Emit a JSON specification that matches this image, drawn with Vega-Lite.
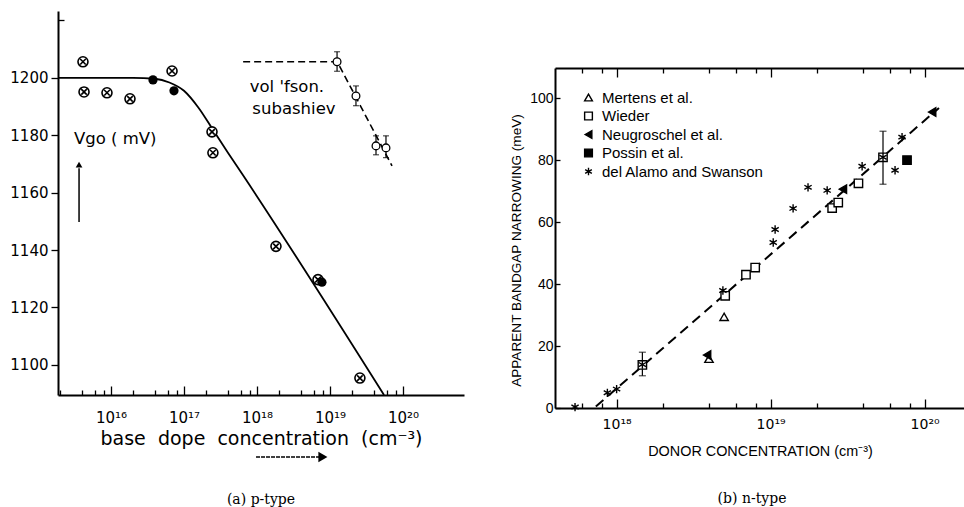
{
  "$schema": "https://vega.github.io/schema/vega-lite/v6.json",
  "background": "white",
  "padding": {"left": 9, "top": 11, "right": 0, "bottom": 0},
  "spacing": 45,
  "resolve": {"legend": {"shape": "independent", "fill": "independent", "stroke": "independent"}},
  "config": {
    "view": {"stroke": null},
    "axis": {"grid": false, "domainColor": "black", "tickColor": "black", "labelColor": "black", "titleColor": "black", "titleFontWeight": "normal", "labelOverlap": false, "labelFlush": false},
    "title": {"color": "black", "font": "DejaVu Serif", "fontSize": 14, "fontWeight": "normal"}
  },
  "datasets": {
    "fitA": [
      {"N": 1.88e15, "V": 1200}, {"N": 2.0e16, "V": 1200}, {"N": 3.98e16, "V": 1199.7},
      {"N": 6.31e16, "V": 1198.4}, {"N": 1.0e17, "V": 1195.5}, {"N": 1.58e17, "V": 1189.6},
      {"N": 2.51e17, "V": 1181.8}, {"N": 3.98e17, "V": 1174.0}, {"N": 6.31e17, "V": 1166.4},
      {"N": 5.5e19, "V": 1089.5}
    ],
    "volfsonFit": [
      {"N": 6.46e17, "V": 1205.6}, {"N": 1.26e19, "V": 1205.6}, {"N": 7.08e19, "V": 1169.3}
    ],
    "crossed": [
      {"N": 4.13e15, "V": 1205.6}, {"N": 4.27e15, "V": 1195.1}, {"N": 8.81e15, "V": 1194.8},
      {"N": 1.82e16, "V": 1192.7}, {"N": 6.86e16, "V": 1202.4}, {"N": 2.42e17, "V": 1181.2},
      {"N": 2.49e17, "V": 1173.9}, {"N": 1.82e18, "V": 1141.3}, {"N": 6.85e18, "V": 1129.7},
      {"N": 2.57e19, "V": 1095.4}
    ],
    "filledA": [
      {"N": 3.76e16, "V": 1199.3}, {"N": 7.29e16, "V": 1195.5}, {"N": 7.76e18, "V": 1128.8}
    ],
    "volfson": [
      {"N": 1.25e19, "V": 1205.6, "lo": 1202.3, "hi": 1209.1},
      {"N": 2.27e19, "V": 1193.7, "lo": 1190.3, "hi": 1197.2},
      {"N": 4.27e19, "V": 1176.3, "lo": 1173.2, "hi": 1179.8},
      {"N": 5.85e19, "V": 1175.6, "lo": 1172.2, "hi": 1179.8}
    ],
    "labelsA": [
      {"N": 2.57e18, "V": 1196.9, "text": "vol 'fson."},
      {"N": 3.21e18, "V": 1189.2, "text": "subashiev"}
    ],
    "vgo": [{"N": 3.11e15, "V": 1178.7, "text": "Vgo ( mV)"}],
    "arrowUp": [{"N": 3.65e15, "V": 1149.8, "V2": 1168.5, "tip": 1169.8}],
    "arrowRight": [{"N": 9.7e17, "N2": 7.6e18, "tip": 8.0e18, "V": 1067.9}],
    "pointsB": [
      {"series": "Mertens et al.", "N": 4.99e18, "V": 29.4},
      {"series": "Mertens et al.", "N": 3.98e18, "V": 15.9},
      {"series": "Wieder", "N": 1.47e18, "V": 13.9},
      {"series": "Wieder", "N": 5.07e18, "V": 36.2},
      {"series": "Wieder", "N": 6.92e18, "V": 43.0},
      {"series": "Wieder", "N": 7.94e18, "V": 45.3},
      {"series": "Wieder", "N": 2.51e19, "V": 64.5},
      {"series": "Wieder", "N": 2.75e19, "V": 66.3},
      {"series": "Wieder", "N": 3.72e19, "V": 72.5},
      {"series": "Wieder", "N": 5.37e19, "V": 80.9},
      {"series": "Neugroschel et al.", "N": 3.87e18, "V": 17.1},
      {"series": "Neugroschel et al.", "N": 2.95e19, "V": 70.6},
      {"series": "Neugroschel et al.", "N": 1.12e20, "V": 95.5},
      {"series": "Possin et al.", "N": 7.69e19, "V": 80.0},
      {"series": "del Alamo and Swanson", "N": 5.37e17, "V": 0.3},
      {"series": "del Alamo and Swanson", "N": 8.71e17, "V": 4.9},
      {"series": "del Alamo and Swanson", "N": 1.0e18, "V": 6.1},
      {"series": "del Alamo and Swanson", "N": 1.47e18, "V": 14.0},
      {"series": "del Alamo and Swanson", "N": 4.9e18, "V": 37.9},
      {"series": "del Alamo and Swanson", "N": 1.04e19, "V": 53.4},
      {"series": "del Alamo and Swanson", "N": 1.07e19, "V": 57.6},
      {"series": "del Alamo and Swanson", "N": 1.4e19, "V": 64.4},
      {"series": "del Alamo and Swanson", "N": 1.75e19, "V": 71.2},
      {"series": "del Alamo and Swanson", "N": 2.33e19, "V": 70.2},
      {"series": "del Alamo and Swanson", "N": 3.93e19, "V": 78.0},
      {"series": "del Alamo and Swanson", "N": 5.37e19, "V": 80.9},
      {"series": "del Alamo and Swanson", "N": 6.43e19, "V": 76.7},
      {"series": "del Alamo and Swanson", "N": 7.14e19, "V": 87.4}
    ],
    "errB": [
      {"N": 1.47e18, "lo": 10.4, "hi": 18.0},
      {"N": 5.37e19, "lo": 72.2, "hi": 89.3}
    ],
    "fitB": [
      {"N": 7.33e17, "V": 0.5}, {"N": 1.24e20, "V": 96.8}
    ]
  },
  "hconcat": [
    {
      "width": 406,
      "height": 384,
      "title": {"text": "(a) p-type", "orient": "bottom", "offset": 31, "anchor": "middle"},
      "layer": [
        {
          "data": {"name": "fitA"},
          "mark": {"type": "line", "color": "black", "strokeWidth": 1.8, "interpolate": "monotone"},
          "encoding": {
            "x": {"field": "N", "type": "quantitative",
              "scale": {"type": "log", "domain": [1.879e15, 6.855e20], "nice": false},
              "axis": {
                "values": [2e15, 4e15, 6e15, 8e15, 1e16, 2e16, 4e16, 6e16, 8e16, 1e17, 2e17, 4e17, 6e17, 8e17, 1e18, 2e18, 4e18, 6e18, 8e18, 1e19, 2e19, 4e19, 6e19, 8e19, 1e20],
                "labelExpr": "datum.value==1e16?'10\u00b9\u2076':datum.value==1e17?'10\u00b9\u2077':datum.value==1e18?'10\u00b9\u2078':datum.value==1e19?'10\u00b9\u2079':datum.value==1e20?'10\u00b2\u2070':''",
                "tickSize": {"condition": {"test": "datum.value==1e16||datum.value==1e17||datum.value==1e18||datum.value==1e19||datum.value==1e20", "value": -9}, "value": -5},
                "tickWidth": 1.3, "domainWidth": 2,
                "labelFont": "DejaVu Sans", "labelFontSize": 15, "labelPadding": 24,
                "title": "base\u00a0\u00a0dope\u00a0\u00a0concentration\u00a0\u00a0(cm\u207b\u00b3)", "titleFont": "DejaVu Sans", "titleFontSize": 19, "titlePadding": 0
              }},
            "y": {"field": "V", "type": "quantitative",
              "scale": {"domain": [1089.5, 1223.3], "nice": false, "zero": false},
              "axis": {
                "values": [1100, 1110, 1120, 1130, 1140, 1150, 1160, 1170, 1180, 1190, 1200, 1210, 1220],
                "labelExpr": "(datum.value%20==0&&datum.value<=1200)?''+datum.value:''",
                "tickSize": {"condition": {"test": "datum.value%20==0&&datum.value<=1200", "value": 7}, "value": -6},
                "tickWidth": 1.3, "domainWidth": 2,
                "labelFont": "DejaVu Sans", "labelFontSize": 15, "labelPadding": 3,
                "title": null
              }}
          }
        },
        {
          "data": {"name": "volfsonFit"},
          "mark": {"type": "line", "color": "black", "strokeWidth": 1.6, "strokeDash": [7, 4]},
          "encoding": {
            "x": {"field": "N", "type": "quantitative"},
            "y": {"field": "V", "type": "quantitative"}
          }
        },
        {
          "data": {"name": "volfson"},
          "mark": {"type": "rule", "color": "black", "strokeWidth": 1.2},
          "encoding": {
            "x": {"field": "N", "type": "quantitative"},
            "y": {"field": "lo", "type": "quantitative"},
            "y2": {"field": "hi"}
          }
        },
        {
          "data": {"name": "volfson"},
          "mark": {"type": "tick", "orient": "horizontal", "color": "black", "size": 6, "thickness": 1.2},
          "encoding": {
            "x": {"field": "N", "type": "quantitative"},
            "y": {"field": "lo", "type": "quantitative"}
          }
        },
        {
          "data": {"name": "volfson"},
          "mark": {"type": "tick", "orient": "horizontal", "color": "black", "size": 6, "thickness": 1.2},
          "encoding": {
            "x": {"field": "N", "type": "quantitative"},
            "y": {"field": "hi", "type": "quantitative"}
          }
        },
        {
          "data": {"name": "volfson"},
          "mark": {"type": "point", "shape": "circle", "size": 60, "fill": "white", "stroke": "black", "strokeWidth": 1.3, "opacity": 1},
          "encoding": {
            "x": {"field": "N", "type": "quantitative"},
            "y": {"field": "V", "type": "quantitative"}
          }
        },
        {
          "data": {"name": "crossed"},
          "mark": {"type": "point", "shape": "M1,0A1,1,0,1,1,-1,0A1,1,0,1,1,1,0ZM-0.55,-0.55L0.55,0.55M-0.55,0.55L0.55,-0.55", "size": 100, "fill": "white", "stroke": "black", "strokeWidth": 1.6, "opacity": 1},
          "encoding": {
            "x": {"field": "N", "type": "quantitative"},
            "y": {"field": "V", "type": "quantitative"}
          }
        },
        {
          "data": {"name": "filledA"},
          "mark": {"type": "point", "shape": "circle", "size": 85, "filled": true, "color": "black", "opacity": 1},
          "encoding": {
            "x": {"field": "N", "type": "quantitative"},
            "y": {"field": "V", "type": "quantitative"}
          }
        },
        {
          "data": {"name": "labelsA"},
          "mark": {"type": "text", "font": "DejaVu Sans", "fontSize": 16.5, "color": "black", "align": "center", "baseline": "middle"},
          "encoding": {
            "x": {"field": "N", "type": "quantitative"},
            "y": {"field": "V", "type": "quantitative"},
            "text": {"field": "text"}
          }
        },
        {
          "data": {"name": "vgo"},
          "mark": {"type": "text", "font": "DejaVu Sans", "fontSize": 16.5, "color": "black", "align": "left", "baseline": "middle"},
          "encoding": {
            "x": {"field": "N", "type": "quantitative"},
            "y": {"field": "V", "type": "quantitative"},
            "text": {"field": "text"}
          }
        },
        {
          "data": {"name": "arrowUp"},
          "mark": {"type": "rule", "color": "black", "strokeWidth": 1.5},
          "encoding": {
            "x": {"field": "N", "type": "quantitative"},
            "y": {"field": "V", "type": "quantitative"},
            "y2": {"field": "V2"}
          }
        },
        {
          "data": {"name": "arrowUp"},
          "mark": {"type": "point", "shape": "triangle-up", "size": 45, "filled": true, "color": "black", "opacity": 1},
          "encoding": {
            "x": {"field": "N", "type": "quantitative"},
            "y": {"field": "tip", "type": "quantitative"}
          }
        },
        {
          "data": {"name": "arrowRight"},
          "mark": {"type": "rule", "color": "black", "strokeWidth": 1.6, "strokeDash": [4, 1]},
          "encoding": {
            "x": {"field": "N", "type": "quantitative"},
            "x2": {"field": "N2"},
            "y": {"field": "V", "type": "quantitative"}
          }
        },
        {
          "data": {"name": "arrowRight"},
          "mark": {"type": "point", "shape": "triangle-right", "size": 110, "filled": true, "color": "black", "opacity": 1},
          "encoding": {
            "x": {"field": "tip", "type": "quantitative"},
            "y": {"field": "V", "type": "quantitative"}
          }
        }
      ]
    },
    {
      "spacing": 0,
      "resolve": {"legend": {"shape": "independent", "fill": "independent", "stroke": "independent"}},
      "vconcat": [
        {
          "width": 1,
          "height": 56,
          "data": {"values": []},
          "mark": {"type": "point", "opacity": 0},
          "encoding": {}
        },
        {
          "width": 410,
          "height": 340,
          "title": {"text": "(b) n-type", "orient": "bottom", "offset": 35, "anchor": "middle", "dx": -8},
          "resolve": {"axis": {"x": "independent"}},
          "layer": [
            {
              "data": {"name": "fitB"},
              "mark": {"type": "line", "color": "black", "strokeWidth": 2, "strokeDash": [10, 6]},
              "encoding": {
                "x": {"field": "N", "type": "quantitative",
                  "scale": {"type": "log", "domain": [3.98e17, 1.83e20], "nice": false},
                  "axis": {
                    "values": [6e17, 8e17, 1e18, 2e18, 4e18, 6e18, 8e18, 1e19, 2e19, 4e19, 6e19, 8e19, 1e20],
                    "labelExpr": "datum.value==1e18?'10\u00b9\u2078':datum.value==1e19?'10\u00b9\u2079':datum.value==1e20?'10\u00b2\u2070':''",
                    "tickSize": {"condition": {"test": "datum.value==1e18||datum.value==1e19||datum.value==1e20", "value": -9}, "value": -5},
                    "tickWidth": 1.3, "domainWidth": 2,
                    "labelFont": "DejaVu Sans", "labelFontSize": 14, "labelPadding": 18,
                    "title": "DONOR CONCENTRATION (cm\u207b\u00b3)", "titleFont": "Liberation Sans", "titleFontSize": 14.4, "titlePadding": 9
                  }},
                "y": {"field": "V", "type": "quantitative",
                  "scale": {"domain": [0, 109.7], "nice": false, "zero": false},
                  "axis": {
                    "values": [0, 20, 40, 60, 80, 100],
                    "tickSize": -5, "tickWidth": 1.3, "domainWidth": 2,
                    "labelFont": "Liberation Sans", "labelFontSize": 14, "labelPadding": 7,
                    "title": "APPARENT BANDGAP NARROWING (meV)", "titleFont": "Liberation Sans", "titleFontSize": 13.6, "titlePadding": 6, "titleY": 182
                  }}
              }
            },
            {
              "data": {"name": "errB"},
              "mark": {"type": "rule", "color": "black", "strokeWidth": 1.2},
              "encoding": {
                "x": {"field": "N", "type": "quantitative",
                  "axis": {
                    "orient": "top",
                    "values": [6e17, 8e17, 1e18, 2e18, 4e18, 6e18, 8e18, 1e19, 2e19, 4e19, 6e19, 8e19, 1e20],
                    "labels": false,
                    "tickSize": {"condition": {"test": "datum.value==1e18||datum.value==1e19||datum.value==1e20", "value": -9}, "value": -5},
                    "tickWidth": 1.3, "domainWidth": 2,
                    "title": null
                  }},
                "y": {"field": "lo", "type": "quantitative"},
                "y2": {"field": "hi"}
              }
            },
            {
              "data": {"name": "errB"},
              "mark": {"type": "tick", "orient": "horizontal", "color": "black", "size": 7, "thickness": 1.2},
              "encoding": {
                "x": {"field": "N", "type": "quantitative", "axis": null},
                "y": {"field": "lo", "type": "quantitative"}
              }
            },
            {
              "data": {"name": "errB"},
              "mark": {"type": "tick", "orient": "horizontal", "color": "black", "size": 7, "thickness": 1.2},
              "encoding": {
                "x": {"field": "N", "type": "quantitative", "axis": null},
                "y": {"field": "hi", "type": "quantitative"}
              }
            },
            {
              "data": {"name": "pointsB"},
              "mark": {"type": "point", "size": 70, "strokeWidth": 1.4, "opacity": 1},
              "encoding": {
                "x": {"field": "N", "type": "quantitative", "axis": null},
                "y": {"field": "V", "type": "quantitative"},
                "shape": {"field": "series", "type": "nominal",
                  "scale": {"domain": ["Mertens et al.", "Wieder", "Neugroschel et al.", "Possin et al.", "del Alamo and Swanson"],
                    "range": ["triangle-up", "square", "triangle-left", "square", "M0,-1L0,1M-0.87,-0.5L0.87,0.5M-0.87,0.5L0.87,-0.5"]},
                  "legend": {"orient": "none", "legendX": 26, "legendY": 22, "title": null,
                    "labelFont": "Liberation Sans", "labelFontSize": 15, "labelColor": "black", "labelOffset": 6, "labelLimit": 400,
                    "rowPadding": 2.5, "symbolStrokeWidth": 1.4, "symbolSize": 60}},
                "fill": {"field": "series", "type": "nominal",
                  "scale": {"domain": ["Mertens et al.", "Wieder", "Neugroschel et al.", "Possin et al.", "del Alamo and Swanson"],
                    "range": ["white", "white", "black", "black", "transparent"]}},
                "stroke": {"field": "series", "type": "nominal",
                  "scale": {"domain": ["Mertens et al.", "Wieder", "Neugroschel et al.", "Possin et al.", "del Alamo and Swanson"],
                    "range": ["black", "black", "black", "black", "black"]}}
              }
            }
          ]
        }
      ]
    }
  ]
}
